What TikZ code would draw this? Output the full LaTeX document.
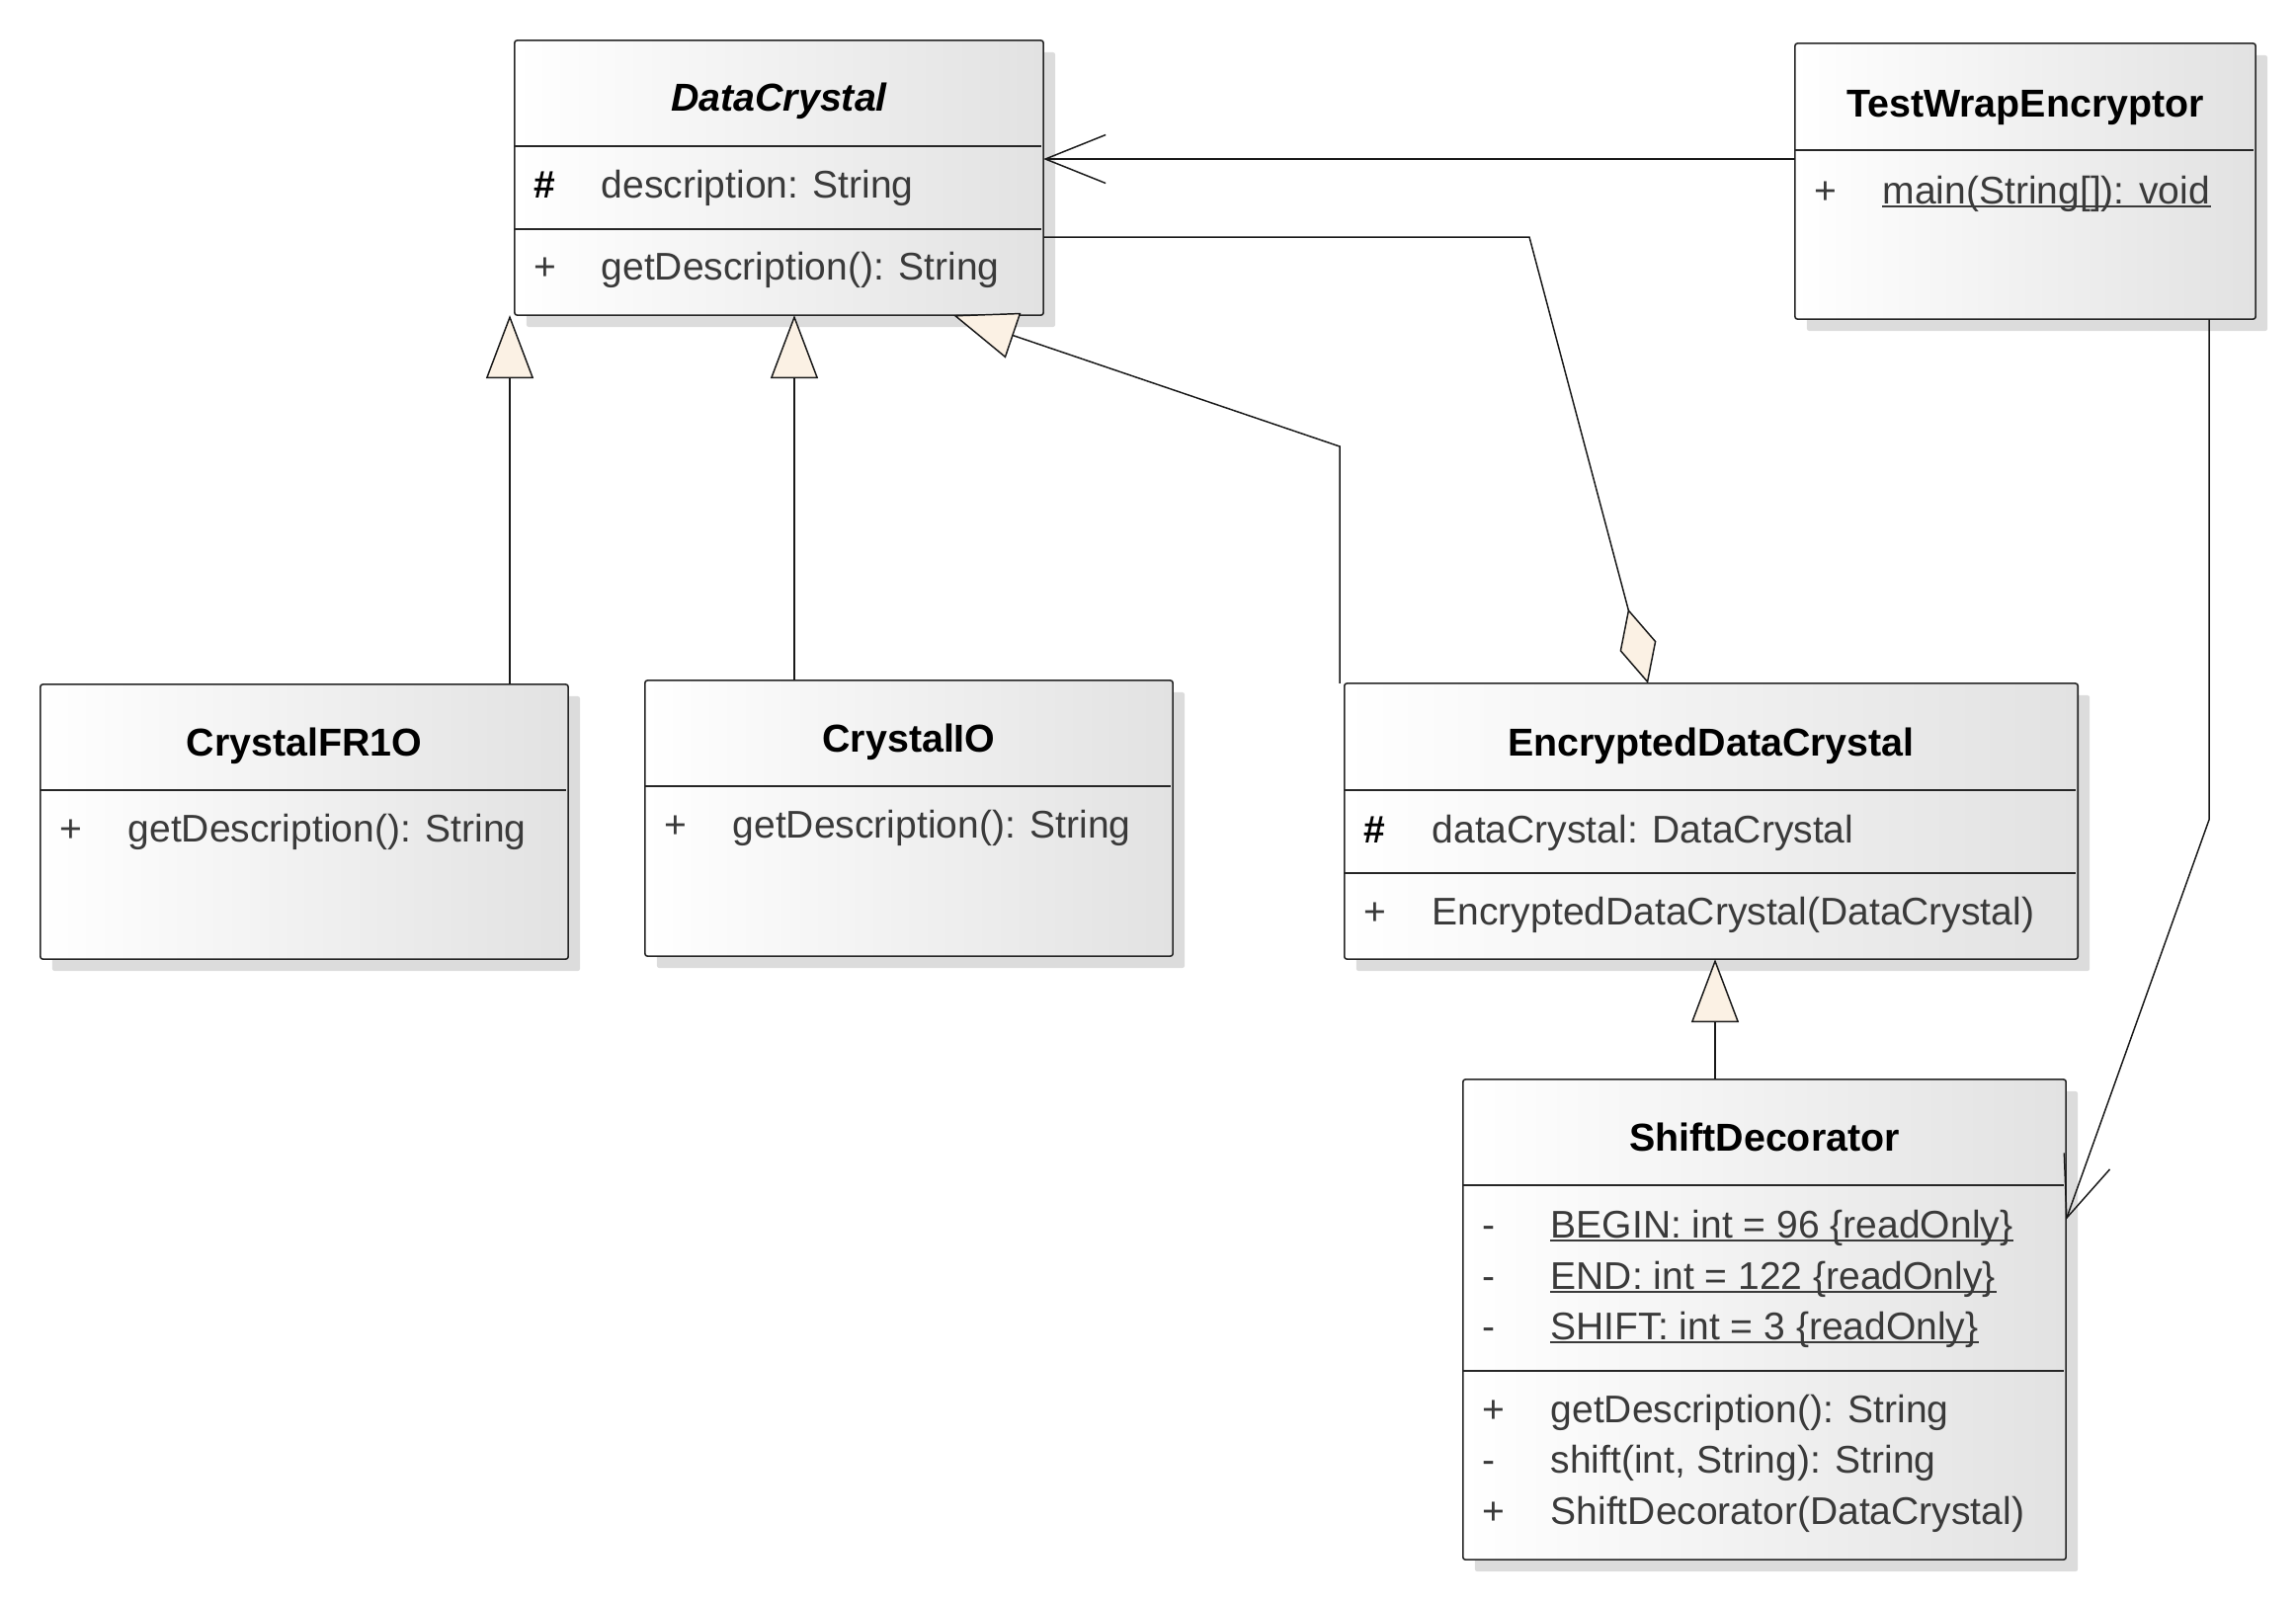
\documentclass[tikz,border=0pt]{standalone}
\usepackage{fontspec}
\setmainfont{Liberation Sans}
\usetikzlibrary{arrows.meta,shadows,calc}
\definecolor{cream}{HTML}{FBF1E4}
\definecolor{boxgray}{HTML}{E2E2E2}
\definecolor{shadowgray}{HTML}{DCDCDC}
\definecolor{boxline}{HTML}{262626}
\definecolor{txtgray}{HTML}{3A3A3A}
\tikzset{
  umlbox/.style={draw=boxline, line width=0.45pt, rounded corners=0.025cm,
    left color=white, right color=boxgray, inner sep=0pt, outer sep=0pt,
    drop shadow={shadow xshift=0.12cm, shadow yshift=-0.12cm, fill=shadowgray, opacity=1}},
  divline/.style={draw=boxline, line width=0.45pt},
  title/.style={anchor=base, inner sep=0pt, text=black, font=\fontsize{11.2}{13}\selectfont\bfseries},
  member/.style={anchor=base west, inner sep=0pt, text=txtgray, font=\fontsize{11.1}{13}\selectfont},
  marker/.style={anchor=base west, inner sep=0pt, text=txtgray, font=\fontsize{11.1}{13}\selectfont},
  hashmark/.style={anchor=base west, inner sep=0pt, text=black, font=\fontsize{11.1}{13}\selectfont\bfseries},
  ul/.style={draw=txtgray, line width=0.4pt},
  conn/.style={draw=black!90, line width=0.42pt},
  gen/.style={conn, -{Triangle[length=0.64cm, width=0.48cm, fill=cream]}},
  agg/.style={conn, -{Diamond[length=0.78cm, width=0.38cm, fill=cream]}},
  assoc/.style={conn, -{Straight Barb[length=0.61cm, width=0.49cm]}}
}
\begin{document}
\begin{tikzpicture}[x=0.01cm, y=-0.01cm]
\useasboundingbox (0,0) rectangle (2324,1620);

% ---------- boxes ----------
\node[umlbox, minimum width=5.35cm, minimum height=2.78cm] (dc) at (788.5,180) {};
\node[umlbox, minimum width=4.66cm, minimum height=2.79cm] (twe) at (2050,183.5) {};
\node[umlbox, minimum width=5.34cm, minimum height=2.78cm] (fr) at (308,832) {};
\node[umlbox, minimum width=5.34cm, minimum height=2.79cm] (cio) at (920,828.5) {};
\node[umlbox, minimum width=7.42cm, minimum height=2.79cm] (edc) at (1732,831.5) {};
\node[umlbox, minimum width=6.10cm, minimum height=4.86cm] (sd) at (1786,1336) {};

% ---------- dividers ----------
\draw[divline] ($(dc.north west)+(0,107)$) -- ($(dc.north east)+(-2,107)$);
\draw[divline] ($(dc.north west)+(0,191)$) -- ($(dc.north east)+(-2,191)$);
\draw[divline] ($(twe.north west)+(0,108)$) -- ($(twe.north east)+(-2,108)$);
\draw[divline] ($(fr.north west)+(0,107)$) -- ($(fr.north east)+(-2,107)$);
\draw[divline] ($(cio.north west)+(0,107)$) -- ($(cio.north east)+(-2,107)$);
\draw[divline] ($(edc.north west)+(0,108)$) -- ($(edc.north east)+(-2,108)$);
\draw[divline] ($(edc.north west)+(0,192)$) -- ($(edc.north east)+(-2,192)$);
\draw[divline] ($(sd.north west)+(0,107)$) -- ($(sd.north east)+(-2,107)$);
\draw[divline] ($(sd.north west)+(0,295)$) -- ($(sd.north east)+(-2,295)$);

% ---------- DataCrystal ----------
\node[title, font=\fontsize{11.2}{13}\selectfont\bfseries\itshape] (dct) at (788.5,112) {DataCrystal};
\node[hashmark] (dcv1) at (540,200) {\#};
\node[member] (dca1) at (608,200) {description: String};
\node[marker] (dcv2) at (540,283) {+};
\node[member] (dcm1) at (608,283) {getDescription(): String};

% ---------- TestWrapEncryptor ----------
\node[title] (twt) at (2050,118) {TestWrapEncryptor};
\node[marker] (twv1) at (1836,206) {+};
\node[member] (twm1) at (1905,206) {main(String[]): void};
\draw[ul] ([yshift=-0.9pt]twm1.base west) -- ([yshift=-0.9pt]twm1.base east);

% ---------- CrystalFR1O ----------
\node[title] (frt) at (308,765) {CrystalFR1O};
\node[marker] (frv1) at (60,852) {+};
\node[member] (frm1) at (129,852) {getDescription(): String};

% ---------- CrystalIO ----------
\node[title] (ciot) at (920,761) {CrystalIO};
\node[marker] (ciov1) at (672,848) {+};
\node[member] (ciom1) at (741,848) {getDescription(): String};

% ---------- EncryptedDataCrystal ----------
\node[title] (edct) at (1732,765) {EncryptedDataCrystal};
\node[hashmark] (edcv1) at (1380,853) {\#};
\node[member] (edca1) at (1449,853) {dataCrystal: DataCrystal};
\node[marker] (edcv2) at (1380,936) {+};
\node[member] (edcm1) at (1449,936) {EncryptedDataCrystal(DataCrystal)};

% ---------- ShiftDecorator ----------
\node[title] (sdt) at (1786,1165) {ShiftDecorator};
\node[marker] (sdv1) at (1500,1253) {-};
\node[member] (sda1) at (1569,1253) {BEGIN: int = 96 \{readOnly\}};
\node[marker] (sdv2) at (1500,1305) {-};
\node[member] (sda2) at (1569,1305) {END: int = 122 \{readOnly\}};
\node[marker] (sdv3) at (1500,1356) {-};
\node[member] (sda3) at (1569,1356) {SHIFT: int = 3 \{readOnly\}};
\draw[ul] ([yshift=-0.9pt]sda1.base west) -- ([yshift=-0.9pt]sda1.base east);
\draw[ul] ([yshift=-0.9pt]sda2.base west) -- ([yshift=-0.9pt]sda2.base east);
\draw[ul] ([yshift=-0.9pt]sda3.base west) -- ([yshift=-0.9pt]sda3.base east);
\node[marker] (sdv4) at (1500,1440) {+};
\node[member] (sdm1) at (1569,1440) {getDescription(): String};
\node[marker] (sdv5) at (1500,1491) {-};
\node[member] (sdm2) at (1569,1491) {shift(int, String): String};
\node[marker] (sdv6) at (1500,1543) {+};
\node[member] (sdm3) at (1569,1543) {ShiftDecorator(DataCrystal)};

% ---------- connector helper coordinates ----------
\coordinate (frx) at (516,0);
\coordinate (cix) at (804,0);
\coordinate (edcx) at (1356,0);
\coordinate (bendA) at (1356,452);
\coordinate (dctip) at (965,0);
\coordinate (sdx) at (1736,0);
\coordinate (agy) at (0,240);
\coordinate (agc) at (1548,240);
\coordinate (agtip) at (1668,0);
\coordinate (asy) at (0,161);
\coordinate (twx) at (2236,0);
\coordinate (twbend) at (2236,830);
\coordinate (sdy) at (0,1235);

% ---------- connectors ----------
\draw[gen] (fr.north -| frx) -- (frx |- dc.south);
\draw[gen] (cio.north -| cix) -- (cix |- dc.south);
\draw[gen] (edc.north -| edcx) -- (bendA) -- (dctip |- dc.south);
\draw[gen] (sd.north -| sdx) -- (sdx |- edc.south);
\draw[agg] (dc.east |- agy) -- (agc) -- (agtip |- edc.north);
\draw[assoc] (twe.west |- asy) -- (dc.east |- asy);
\draw[assoc] (twx |- twe.south) -- (twbend) -- (sd.east |- sdy);
\end{tikzpicture}
\end{document}
